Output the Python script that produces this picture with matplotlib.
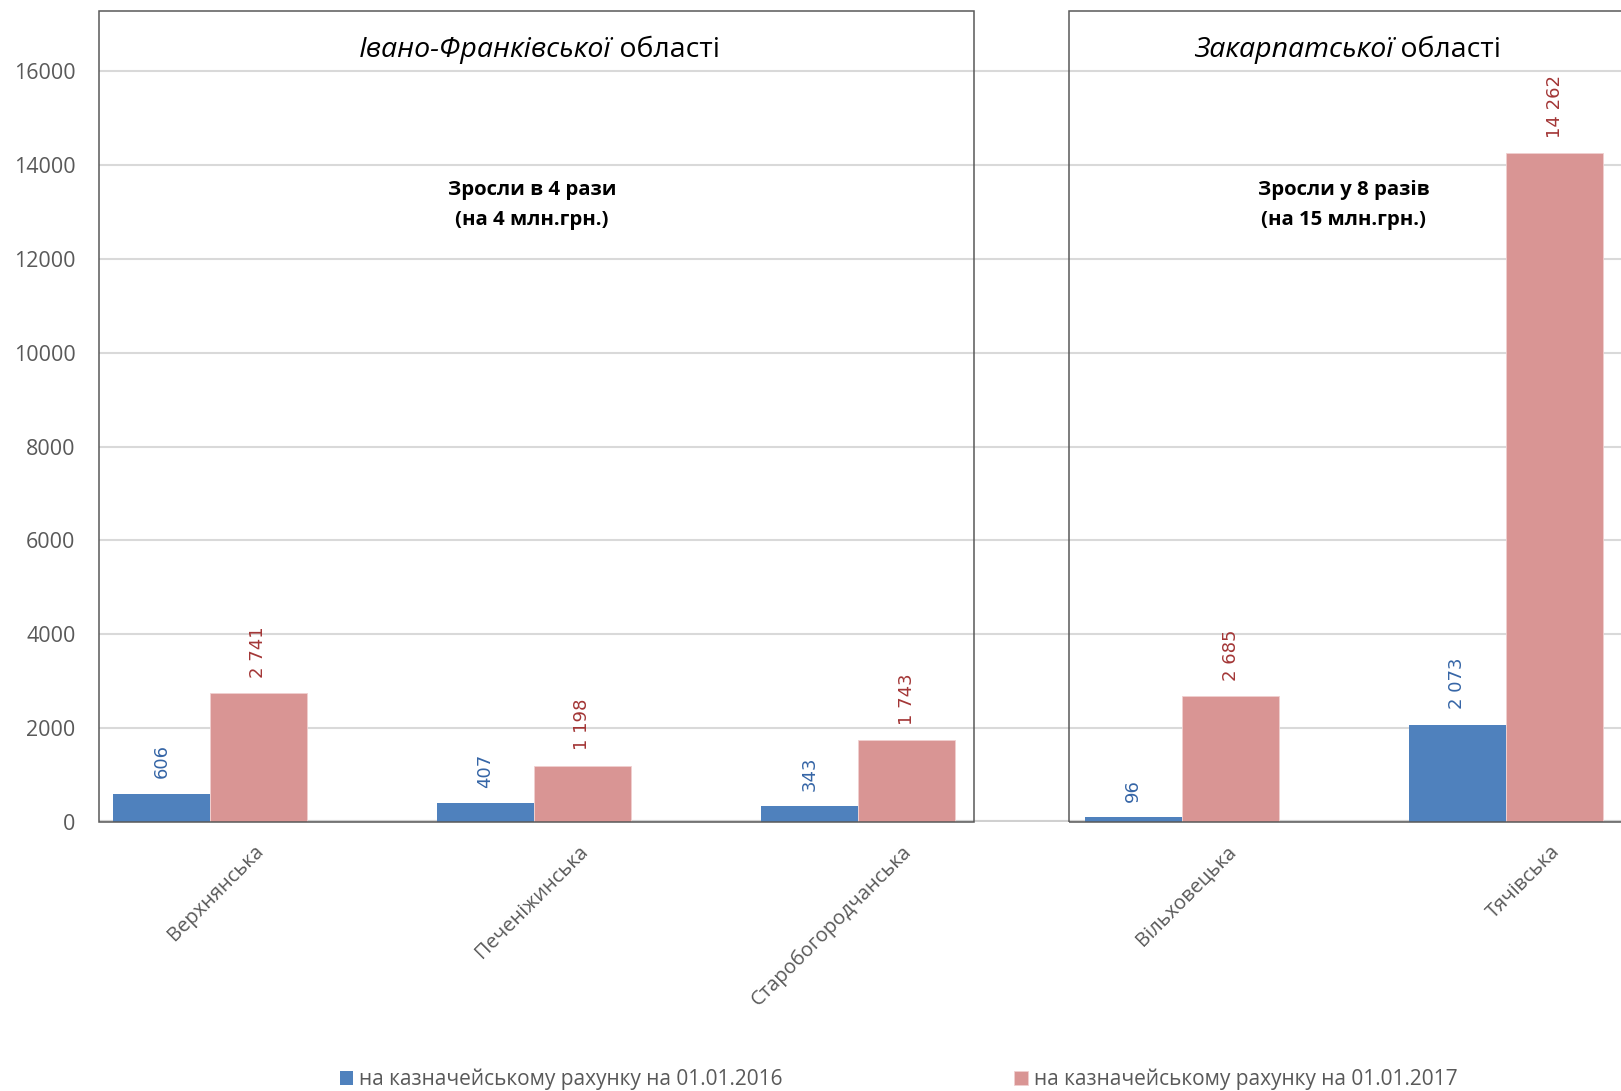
import numpy as np
import matplotlib
matplotlib.use("Agg")
import matplotlib.pyplot as plt
import matplotlib.transforms as mtransforms
from matplotlib.patches import Rectangle

# data
categories = ["Верхнянська", "Печеніжинська", "Старобогородчанська", "Вільховецька", "Тячівська"]
values_2016 = [606, 407, 343, 96, 2073]
values_2017 = [2741, 1198, 1743, 2685, 14262]
series_labels = ["на казначейському рахунку на 01.01.2016", "на казначейському рахунку на 01.01.2017"]
region_titles = ["Івано-Франківської", "Закарпатської"]
region_notes = ["Зросли в 4 рази\n(на 4 млн.грн.)", "Зросли у 8 разів\n(на 15 млн.грн.)"]
yticks = [0, 2000, 4000, 6000, 8000, 10000, 12000, 14000, 16000]

BLUE = "#4f81bd"
PINK = "#d99594"
BLUE_TXT = "#3565a6"
RED_TXT = "#a33636"
GREY = "#595959"

plt.rcParams["font.family"] = ["Open Sans", "DejaVu Sans"]

fig = plt.figure(figsize=(16.21, 10.91), dpi=100)
ax = fig.add_axes([0.0611, 0.2466, 0.9389, 0.743])

x = np.arange(len(categories))
w = 0.3
b1 = ax.bar(x - w / 2, values_2016, w, color=BLUE, zorder=3, label=series_labels[0])
b2 = ax.bar(x + w / 2, values_2017, w, color=PINK, edgecolor="#f0d0d0", linewidth=0.6,
            zorder=3, label=series_labels[1])

ax.set_xlim(-0.342, 4.355)
ax.set_ylim(0, 17280)

# value labels
for bars, col in ((b1, BLUE_TXT), (b2, RED_TXT)):
    for r in bars:
        v = int(r.get_height())
        ax.annotate(f"{v:,}".replace(",", " "),
                    xy=(r.get_x() + r.get_width() / 2, v),
                    xytext=(0, 11), textcoords="offset points",
                    rotation=90, ha="center", va="bottom",
                    color=col, fontsize=13, family="DejaVu Sans", zorder=5)

# grid and axes
ax.set_yticks(yticks)
ax.yaxis.grid(True, color="#d9d9d9", linewidth=1.5, zorder=0)
ax.set_axisbelow(True)
for s in ax.spines.values():
    s.set_visible(False)
ax.axhline(0, color="#d0d0d0", linewidth=3, zorder=2)
ax.tick_params(axis="y", length=0, pad=17, labelsize=15.5, labelcolor=GREY)
ax.tick_params(axis="x", length=0, pad=19, labelsize=14.5, labelcolor=GREY)
ax.set_xticks(x)
ax.set_xticklabels(categories, rotation=45, ha="right", va="center", rotation_mode="anchor")
offset = mtransforms.ScaledTranslation(0.51, 0, fig.dpi_scale_trans)
for lbl in ax.get_xticklabels():
    lbl.set_transform(lbl.get_transform() + offset)

# region boxes
top = ax.get_ylim()[1]
boxes = [(-0.342, 2.358), (2.652, 5.5)]
for (x0, x1) in boxes:
    ax.add_patch(Rectangle((x0, 0), x1 - x0, top, fill=False, edgecolor=GREY,
                           linewidth=1.1, zorder=4, clip_on=False))

# region titles and notes
split_x = [1.24, 3.652]
note_x = [0.994, 3.500]
for sx, nx, title, note in zip(split_x, note_x, region_titles, region_notes):
    ax.text(sx, 16460, title, ha="right", va="center", fontsize=20.5, style="italic", color="black")
    ax.text(sx, 16460, " області", ha="left", va="center", fontsize=20.5, color="black")
    ax.text(nx, 13150, note, ha="center", va="center", fontsize=14.7, fontweight="bold",
            linespacing=1.62, color="black")

# legend
fig.legend(handles=[b1, b2], labels=series_labels, loc="center",
           bbox_to_anchor=(0.5543, 0.0105), ncol=2, frameon=False,
           fontsize=15, handlelength=0.65, handleheight=0.65, handletextpad=0.3,
           columnspacing=11.1, labelcolor=GREY)

fig.savefig("out.png", dpi=100)
